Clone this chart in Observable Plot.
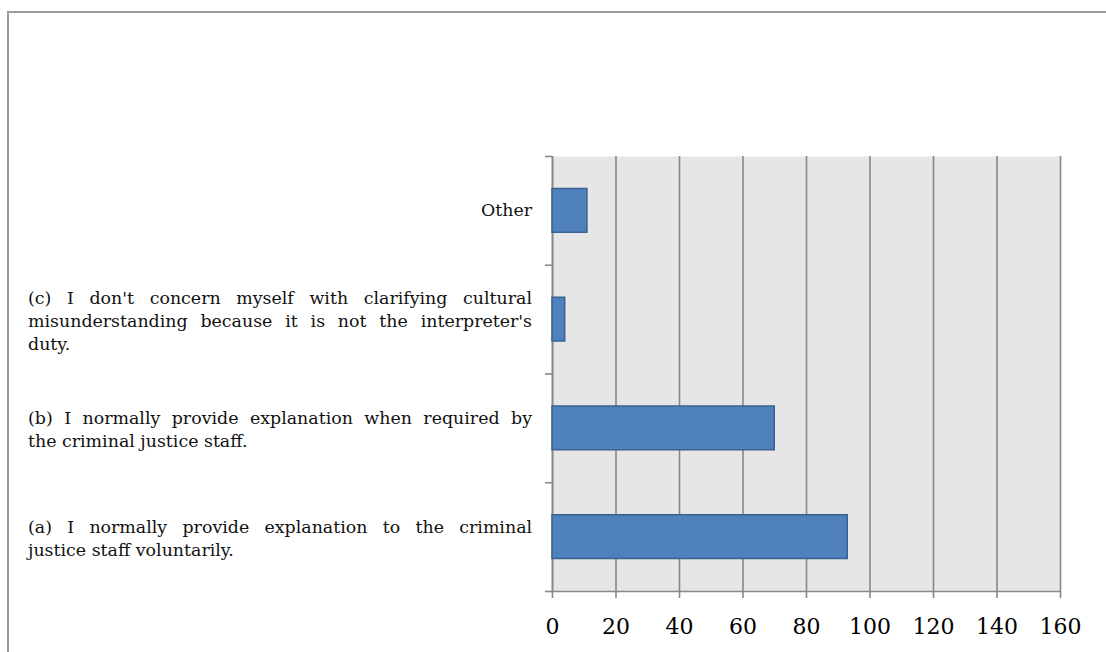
<!DOCTYPE html>
<html>
<head>
<meta charset="utf-8">
<script src="https://cdn.jsdelivr.net/npm/d3@7"></script>
<script src="https://cdn.jsdelivr.net/npm/@observablehq/plot@0.6"></script>
<style>
  html, body { margin: 0; padding: 0; background: #fff; }
  #wrap { position: relative; width: 1106px; height: 652px; overflow: hidden; }
  #frame { position: absolute; left: 7px; top: 11px; width: 1200px; height: 700px;
           border-left: 2px solid #9a9a9a; border-top: 2px solid #9a9a9a; }
  #chart { position: absolute; left: 0; top: 0; }
</style>
</head>
<body>
<div id="wrap"><div id="frame"></div><div id="chart"></div></div>
<script>
// Categories listed bottom to top, with the line breaks seen in the picture
const categories = [
  "(a) I normally provide explanation to the criminal\njustice staff voluntarily.",
  "(b) I normally provide explanation when required by\nthe criminal justice staff.",
  "(c) I don't concern myself with clarifying cultural\nmisunderstanding because it is not the interpreter's\nduty.",
  "Other"
];
const values = [93, 70, 4, 11];
const xTicks = [0, 20, 40, 60, 80, 100, 120, 140, 160];

const data = categories.map((c, i) => ({label: c, value: values[i], pos: i}));
const yEdges = d3.range(categories.length + 1);

const gray = "#888888";
const font = "DejaVu Serif";

const chart = Plot.plot({
  width: 1106,
  height: 652,
  marginLeft: 552,
  marginRight: 46,
  marginTop: 156,
  marginBottom: 61,
  style: {fontFamily: font, background: "transparent", overflow: "visible"},
  x: {domain: [0, 160]},
  y: {domain: [0, categories.length]},
  marks: [
    Plot.frame({fill: "#e6e6e6", stroke: null}),
    Plot.gridX({ticks: xTicks, stroke: gray, strokeOpacity: 1, strokeWidth: 1.6}),
    Plot.ruleY([0], {stroke: gray, strokeWidth: 1.6}),
    Plot.ruleX([0], {stroke: gray, strokeWidth: 1.6}),
    Plot.axisX({ticks: xTicks, tickSize: 7, tickPadding: 20, stroke: gray, strokeWidth: 1.6,
                fill: "#000", fontSize: 22, fontFamily: font, label: null}),
    Plot.axisY({ticks: yEdges, tickSize: 7, tickFormat: () => "", stroke: gray, strokeWidth: 1.6, label: null}),
    Plot.rectX(data, {x: "value", y1: d => d.pos, y2: d => d.pos + 1, insetTop: 32.5, insetBottom: 32.5,
                      fill: "#4f81bd", stroke: "#3a6190", strokeWidth: 1.5}),
    Plot.text(data.filter(d => d.label.includes("\n")), {
      text: "label", y: d => d.pos + 0.5, frameAnchor: "left", dx: -524.5,
      textAnchor: "start", lineAnchor: "middle", lineHeight: 1.32,
      fontSize: 17.4, fontFamily: font, fill: "#111"
    }),
    Plot.text(data.filter(d => !d.label.includes("\n")), {
      text: "label", y: d => d.pos + 0.5, frameAnchor: "left", dx: -20.5,
      textAnchor: "end", lineAnchor: "middle",
      fontSize: 17.4, fontFamily: font, fill: "#111"
    })
  ]
});

document.getElementById("chart").appendChild(chart);

// Justify every line except the last of each multi-line label
const targetWidth = 504;
const svgNS = "http://www.w3.org/2000/svg";
chart.querySelectorAll("text").forEach(t => {
  const spans = Array.from(t.children).filter(c => c.tagName.toLowerCase() === "tspan");
  if (spans.length < 2) return;
  spans.slice(0, -1).forEach(s => {
    const len = s.getComputedTextLength();
    const words = s.textContent.split(" ");
    if (words.length < 2) return;
    const extra = (targetWidth - len) / (words.length - 1);
    s.textContent = words[0];
    words.slice(1).forEach(w => {
      const sub = document.createElementNS(svgNS, "tspan");
      sub.setAttribute("dx", extra);
      sub.textContent = " " + w;
      s.appendChild(sub);
    });
  });
});
</script>
</body>
</html>
